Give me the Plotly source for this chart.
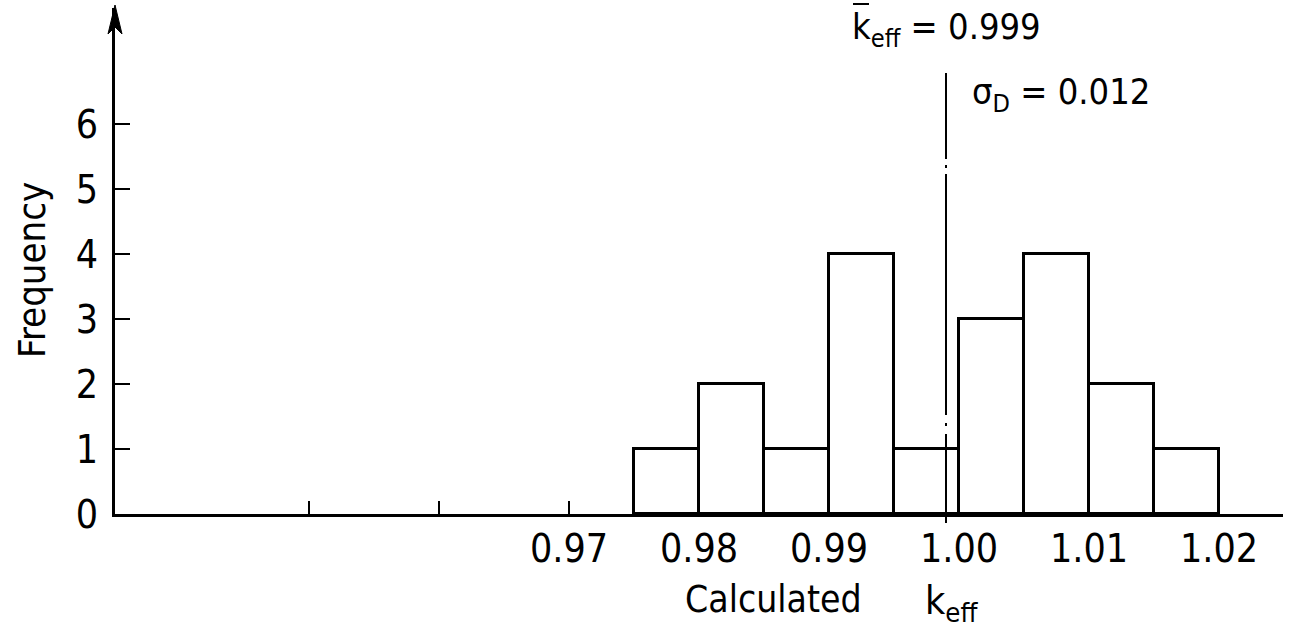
import plotly.graph_objects as go

# ---- data ----
bin_edges = [0.975, 0.980, 0.985, 0.990, 0.995, 1.000, 1.005, 1.010, 1.015, 1.020]
frequency = [1, 2, 1, 4, 1, 3, 4, 2, 1]
k_mean = 0.999
sigma_d = 0.012
x_tick_vals = [0.97, 0.98, 0.99, 1.00, 1.01, 1.02]
x_tick_text = ["0.97", "0.98", "0.99", "1.00", "1.01", "1.02"]
x_minor_tick_vals = [0.95, 0.96]
y_tick_vals = [0, 1, 2, 3, 4, 5, 6]

W, H = 1291, 628
ML, MR, MT, MB = 115, 8, 8, 114
PW, PH = W - ML - MR, H - MT - MB

FONT = "Liberation Sans Narrow, DejaVu Sans Condensed, Arial Narrow, Liberation Sans, sans-serif"

def px_x(px):
    return (px - ML) / PW

def px_y(py):
    return (H - MB - py) / PH

centers = [(a + b) / 2 for a, b in zip(bin_edges[:-1], bin_edges[1:])]
widths = [b - a for a, b in zip(bin_edges[:-1], bin_edges[1:])]

fig = go.Figure()
fig.add_trace(go.Bar(
    x=centers, y=frequency, width=widths,
    marker=dict(color="white", line=dict(color="black", width=3)),
    showlegend=False, hoverinfo="skip",
))

fig.update_layout(
    width=W, height=H,
    margin=dict(l=ML, r=MR, t=MT, b=MB, pad=0),
    paper_bgcolor="white", plot_bgcolor="white",
    font=dict(family=FONT, color="black", size=39),
    bargap=0,
    xaxis=dict(
        range=[0.97 - 454 / 13000, 0.97 + 714 / 13000],
        tickvals=x_tick_vals, ticktext=x_tick_text,
        ticks="inside", ticklen=13, tickwidth=2, tickcolor="black",
        minor=dict(tickvals=x_minor_tick_vals, ticks="inside", ticklen=13,
                   tickwidth=2, tickcolor="black", showgrid=False),
        showline=True, linewidth=3, linecolor="black",
        showgrid=False, zeroline=False,
        tickfont=dict(size=39, family=FONT),
        ticklabelstandoff=-2,
    ),
    yaxis=dict(
        range=[0, PH / 65],
        tickvals=y_tick_vals,
        ticks="inside", ticklen=15, tickwidth=2, tickcolor="black",
        showline=True, linewidth=3, linecolor="black",
        showgrid=False, zeroline=False,
        tickfont=dict(size=39, family=FONT),
        ticklabelstandoff=6,
    ),
)

# arrow head at the top of the y axis
tip, back, notch = 5, 34, 27
fig.add_shape(
    type="path", xref="paper", yref="paper",
    path="M {} {} L {} {} L {} {} L {} {} Z".format(
        px_x(115), px_y(tip), px_x(108), px_y(back),
        px_x(115), px_y(notch), px_x(122), px_y(back)),
    fillcolor="black", line=dict(color="black", width=1),
)

# mean line (dash-dot)
fig.add_shape(
    type="line", xref="x", yref="paper",
    x0=k_mean, x1=k_mean, y0=px_y(523), y1=px_y(73),
    line=dict(color="black", width=2, dash="89px,8px,3px,8px,241px,6px,3px,6px,200px"),
)

# y-axis title
fig.add_annotation(
    xref="paper", yref="paper", x=px_x(32), y=px_y(270),
    text="Frequency", textangle=-90, showarrow=False,
    xanchor="center", yanchor="middle", font=dict(size=38, family=FONT),
)

# x-axis title
fig.add_annotation(
    xref="paper", yref="paper", x=px_x(773), y=px_y(599),
    text="Calculated", showarrow=False,
    xanchor="center", yanchor="middle", font=dict(size=37, family=FONT),
)
fig.add_annotation(
    xref="paper", yref="paper", x=px_x(923), y=px_y(603),
    text="k<sub>eff</sub>", showarrow=False,
    xanchor="left", yanchor="middle", font=dict(size=39, family=FONT),
)

# statistics
fig.add_annotation(
    xref="paper", yref="paper", x=px_x(850), y=px_y(30),
    text="k<sub>eff</sub> = %.3f" % k_mean, showarrow=False,
    xanchor="left", yanchor="middle", font=dict(size=36, family=FONT),
)
fig.add_shape(
    type="line", xref="paper", yref="paper",
    x0=px_x(853), x1=px_x(869), y0=px_y(4), y1=px_y(4),
    line=dict(color="black", width=2),
)
fig.add_annotation(
    xref="paper", yref="paper", x=px_x(970), y=px_y(94),
    text="σ<sub>D</sub> = %.3f" % sigma_d, showarrow=False,
    xanchor="left", yanchor="middle", font=dict(size=36, family=FONT),
)

fig.write_html("out.html")
